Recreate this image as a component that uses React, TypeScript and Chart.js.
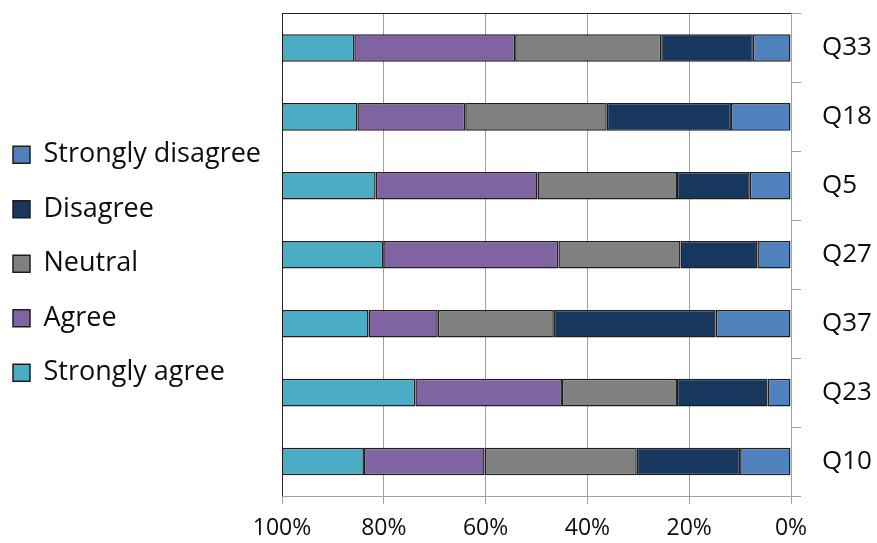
import { useEffect, useRef } from 'react';
import { Chart, registerables } from 'chart.js';

Chart.register(...registerables);

// Survey questions, top to bottom
const questions = ['Q33', 'Q18', 'Q5', 'Q27', 'Q37', 'Q23', 'Q10'];

// Share of responses per question (%)
const stronglyDisagree = [7.5, 11.8, 8.1, 6.6, 14.8, 4.6, 10.0];
const disagree = [18.0, 24.4, 14.3, 15.1, 31.8, 17.8, 20.3];
const neutral = [28.7, 27.8, 27.4, 24.0, 22.8, 22.6, 29.9];
const agree = [31.6, 21.2, 31.8, 34.4, 13.6, 28.8, 23.7];
const stronglyAgree = [14.2, 14.8, 18.4, 19.9, 17.0, 26.2, 16.1];

// Percentage axis ticks
const percentTicks = [0, 20, 40, 60, 80, 100];

const FONT_FAMILY = '"Open Sans", Lato, sans-serif';
const TEXT_COLOR = '#0d0d0d';
const GRID_COLOR = '#a0a0a0';
const FRAME_COLOR = '#222222';
const BAR_BORDER = '#1e1e1e';

const LEGEND_FONT_SIZE = 27;
const LEGEND_ROW_GAP = 27.5;
const LEGEND_WIDTH = 282;
const LEGEND_SHIFT_X = -14.5;
const LEGEND_SHIFT_Y = -14.5;

// Widens the legend box and nudges the legend into place
const legendPlacement = {
  id: 'legendPlacement',
  beforeInit(chart: any) {
    const legend = chart.legend;
    if (!legend) return;
    const fit = legend.fit;
    legend.fit = function () {
      fit.call(this);
      this.width = LEGEND_WIDTH;
    };
  },
  afterLayout(chart: any) {
    const legend = chart.legend;
    if (!legend) return;
    legend.left += LEGEND_SHIFT_X;
    legend.right += LEGEND_SHIFT_X;
    legend.top += LEGEND_SHIFT_Y;
    legend.bottom += LEGEND_SHIFT_Y;
  },
};

export default function App() {
  const canvasRef = useRef<HTMLCanvasElement | null>(null);

  useEffect(() => {
    if (!canvasRef.current) return;

    const series = [
      { label: 'Strongly disagree', data: stronglyDisagree, color: '#4f81bd' },
      { label: 'Disagree', data: disagree, color: '#17375e' },
      { label: 'Neutral', data: neutral, color: '#808080' },
      { label: 'Agree', data: agree, color: '#8064a2' },
      { label: 'Strongly agree', data: stronglyAgree, color: '#4bacc6' },
    ];

    const chart = new Chart(canvasRef.current, {
      type: 'bar',
      data: {
        labels: questions,
        datasets: series.map((s) => ({
          label: s.label,
          data: s.data,
          backgroundColor: s.color,
          borderColor: BAR_BORDER,
          borderWidth: 1.5,
          borderSkipped: false,
          barPercentage: 0.4,
          categoryPercentage: 1,
        })),
      },
      options: {
        indexAxis: 'y',
        responsive: true,
        maintainAspectRatio: false,
        animation: false,
        layout: { padding: { top: 13.5, left: 0, right: 0, bottom: 0 } },
        scales: {
          x: {
            type: 'linear',
            stacked: true,
            reverse: true,
            min: 0,
            max: 100,
            afterBuildTicks: (scale: any) => {
              scale.ticks = percentTicks.map((value) => ({ value }));
            },
            afterFit: (scale: any) => {
              scale.height = 47;
            },
            grid: {
              color: (ctx: any) => (ctx.tick && ctx.tick.value === 100 ? FRAME_COLOR : GRID_COLOR),
              tickColor: GRID_COLOR,
              tickLength: 8,
              lineWidth: 1,
            },
            border: { color: GRID_COLOR, width: 1 },
            ticks: {
              color: TEXT_COLOR,
              font: { family: FONT_FAMILY, size: 23 },
              padding: 11,
              maxRotation: 0,
              callback: (value: any) => `${value}%`,
            },
          },
          y: {
            type: 'category',
            position: 'right',
            stacked: true,
            afterFit: (scale: any) => {
              scale.width = 86;
              scale.paddingTop = 0;
              scale.paddingBottom = 0;
            },
            grid: {
              offset: true,
              color: (ctx: any) => (ctx.index === 0 ? FRAME_COLOR : 'rgba(0,0,0,0)'),
              tickColor: GRID_COLOR,
              tickLength: 10,
              lineWidth: 1,
            },
            border: { color: GRID_COLOR, width: 1 },
            ticks: {
              color: TEXT_COLOR,
              font: { family: FONT_FAMILY, size: 26 },
              padding: 21,
            },
          },
        },
        plugins: {
          legend: {
            position: 'left',
            align: 'center',
            labels: {
              color: TEXT_COLOR,
              font: { family: FONT_FAMILY, size: LEGEND_FONT_SIZE },
              boxWidth: 17,
              boxHeight: 17,
              padding: LEGEND_ROW_GAP,
            },
          },
          tooltip: { enabled: false },
          title: { display: false },
        },
      },
      plugins: [legendPlacement],
    });

    return () => chart.destroy();
  }, []);

  return (
    <div
      style={{
        position: 'fixed',
        left: 0,
        top: 0,
        width: 877,
        height: 543,
        background: '#ffffff',
      }}
    >
      <canvas ref={canvasRef} />
    </div>
  );
}
